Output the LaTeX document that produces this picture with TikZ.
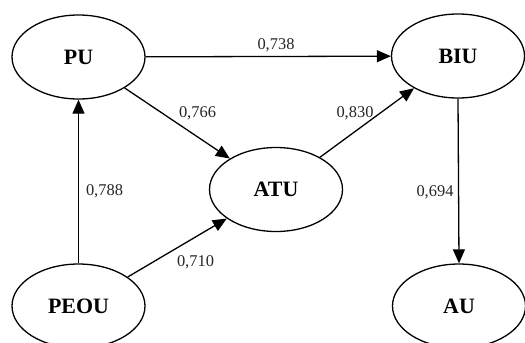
\documentclass[tikz,border=0pt]{standalone}
\usepackage{fontspec}
\setmainfont{Liberation Serif}
\usetikzlibrary{shapes.geometric,arrows.meta}
\begin{document}
\begin{tikzpicture}[x=1bp,y=-1bp,
  construct/.style={draw,ellipse,line width=1.3bp,minimum width=133bp,minimum height=84bp,inner sep=0pt,font=\fontsize{22}{22}\selectfont\bfseries},
  path/.style={line width=1.3bp,-{Triangle[length=14bp,width=12bp]}},
  coef/.style={font=\fontsize{16.5}{17}\selectfont,text=black!85,inner sep=0pt}]
\useasboundingbox (0,0) rectangle (525,342);
\node[construct] (PU) at (78.5,57) {PU};
\node[construct] (BIU) at (458,56) {BIU};
\node[construct] (ATU) at (276,189.5) {ATU};
\node[construct] (PEOU) at (78.5,306) {PEOU};
\node[construct] (AU) at (459,306) {AU};
\draw[path] (PU) -- (BIU);
\draw[path] (PU) -- (ATU);
\draw[path] (ATU) -- (BIU);
\draw[path] (PEOU) -- (PU);
\draw[path] (PEOU) -- (ATU);
\draw[path] (BIU.south) -- (AU.north);
\node[coef] (l1) at (276,45) {0,738};
\node[coef] (l2) at (197.5,113.5) {0,766};
\node[coef] (l3) at (355,113.5) {0,830};
\node[coef] (l4) at (104.5,191.5) {0,788};
\node[coef] (l5) at (195.5,262) {0,710};
\node[coef] (l6) at (435,192) {0,694};
\end{tikzpicture}
\end{document}
